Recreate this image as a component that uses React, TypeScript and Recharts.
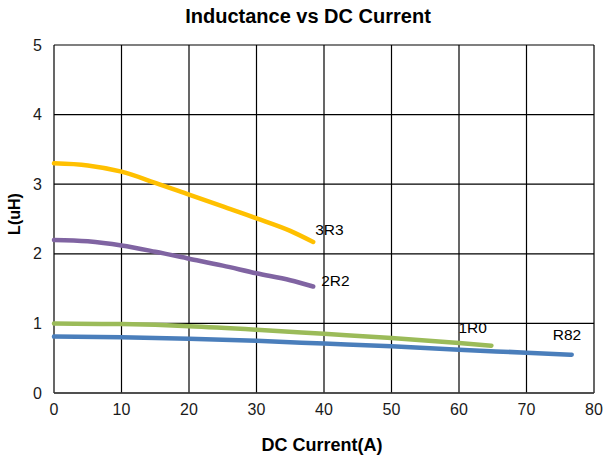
import {
  CartesianGrid,
  LabelList,
  Line,
  LineChart,
  XAxis,
  YAxis,
} from "recharts";

const X_TICKS = [0, 10, 20, 30, 40, 50, 60, 70, 80];
const Y_TICKS = [0, 1, 2, 3, 4, 5];

// corrente (A) e indutância (uH)
const I_3R3 = [0, 5, 10, 15, 20, 25, 30, 35, 38.4];
const L_3R3 = [3.3, 3.27, 3.18, 3.02, 2.85, 2.68, 2.51, 2.33, 2.17];

const I_2R2 = [0, 5, 10, 15, 20, 25, 30, 35, 38.4];
const L_2R2 = [2.2, 2.18, 2.12, 2.03, 1.93, 1.83, 1.72, 1.62, 1.53];

const I_1R0 = [0, 10, 20, 30, 40, 50, 60, 64.8];
const L_1R0 = [1.0, 0.99, 0.96, 0.91, 0.85, 0.79, 0.72, 0.68];

const I_R82 = [0, 10, 20, 30, 40, 50, 60, 70, 76.7];
const L_R82 = [0.81, 0.8, 0.78, 0.75, 0.71, 0.67, 0.62, 0.58, 0.55];

const FONTE = "'Liberation Sans', Arial, sans-serif";

const juntar = (xs: number[], ys: number[]) =>
  xs.map((x, i) => ({ i: x, l: ys[i] }));

const SERIES = [
  { nome: "3R3", dados: juntar(I_3R3, L_3R3), cor: "#FFC000", dx: 2, dy: -7 },
  { nome: "2R2", dados: juntar(I_2R2, L_2R2), cor: "#8064A2", dx: 8, dy: -1 },
  { nome: "1R0", dados: juntar(I_1R0, L_1R0), cor: "#9BBB59", dx: -33, dy: -13 },
  { nome: "R82", dados: juntar(I_R82, L_R82), cor: "#4A7EBB", dx: -19, dy: -15 },
];

function rotuloFinal(nome: string, total: number, dx: number, dy: number) {
  return (props: any) => {
    if (props.index !== total - 1) return null;
    return (
      <text
        x={Number(props.x) + dx}
        y={Number(props.y) + dy}
        fontFamily={FONTE}
        fontSize={15.5}
        fill="#000"
      >
        {nome}
      </text>
    );
  };
}

export default function App() {
  return (
    <div style={{ position: "absolute", left: 0, top: 0, background: "#fff" }}>
      <LineChart
        width={603}
        height={459}
        margin={{ top: 45, right: 9, bottom: 0, left: 0 }}
      >
        <text
          x={308}
          y={23}
          textAnchor="middle"
          fontFamily={FONTE}
          fontSize={20}
          fontWeight="bold"
          fill="#000"
        >
          Inductance vs DC Current
        </text>
        <CartesianGrid stroke="#000" strokeWidth={1.2} />
        <XAxis
          type="number"
          dataKey="i"
          domain={[0, 80]}
          ticks={X_TICKS}
          allowDuplicatedCategory={false}
          height={66}
          tickLine={false}
          tickMargin={5}
          stroke="#404040"
          strokeWidth={1.5}
          tick={{ fill: "#1a1a1a", fontSize: 16, fontFamily: FONTE }}
          label={{
            content: () => (
              <text
                x={322}
                y={451}
                textAnchor="middle"
                fontFamily={FONTE}
                fontSize={18}
                fontWeight="bold"
                fill="#000"
              >
                DC Current(A)
              </text>
            ),
          }}
        />
        <YAxis
          type="number"
          domain={[0, 5]}
          ticks={Y_TICKS}
          width={54}
          axisLine={false}
          tickLine={false}
          tickMargin={6}
          tick={{ fill: "#1a1a1a", fontSize: 16, fontFamily: FONTE }}
          label={{
            content: () => (
              <text
                x={20}
                y={214}
                textAnchor="middle"
                transform="rotate(-90, 20, 214)"
                fontFamily={FONTE}
                fontSize={16}
                fontWeight="bold"
                fill="#000"
              >
                L(uH)
              </text>
            ),
          }}
        />
        {SERIES.map((s) => (
          <Line
            key={s.nome}
            data={s.dados}
            dataKey="l"
            type="monotone"
            stroke={s.cor}
            strokeWidth={4.5}
            strokeLinecap="round"
            dot={false}
            isAnimationActive={false}
          >
            <LabelList
              dataKey="l"
              content={rotuloFinal(s.nome, s.dados.length, s.dx, s.dy)}
            />
          </Line>
        ))}
      </LineChart>
    </div>
  );
}
